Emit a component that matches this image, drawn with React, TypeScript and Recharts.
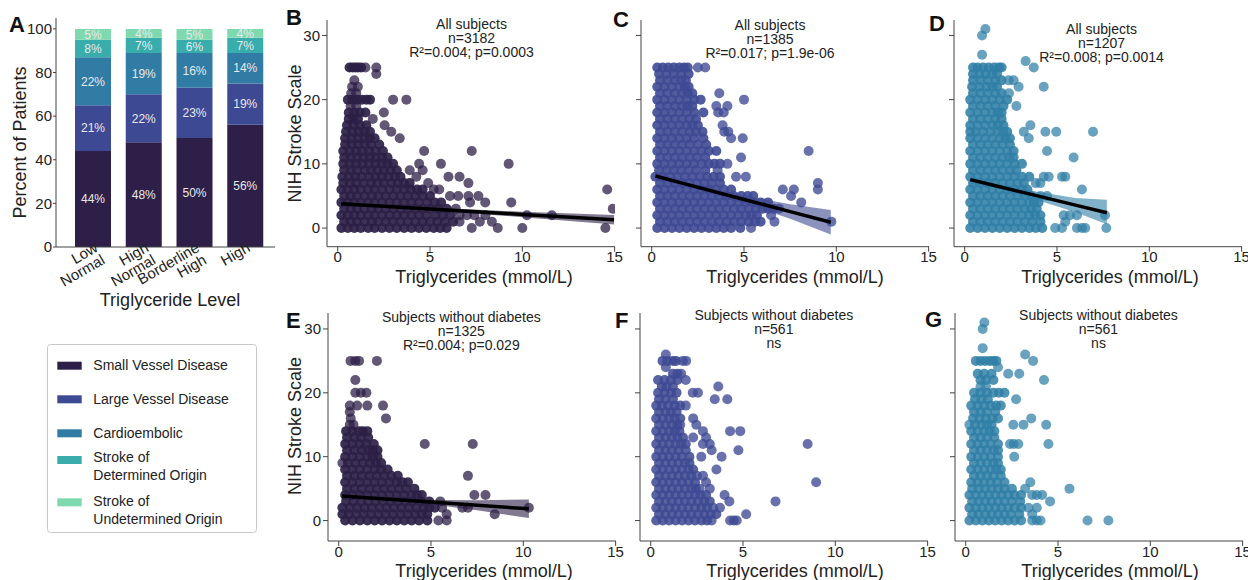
import React from "react";
import {
  BarChart,
  Bar,
  XAxis,
  YAxis,
  LabelList,
  ComposedChart,
  Scatter,
  Line,
  Area,
} from "recharts";

const FONT = '"Liberation Sans", Arial, Helvetica, sans-serif';
const INK = "#222";
const AXIS = "#444";

// ---- panel A: subtype share by triglyceride level ----
const levels = ["Low\nNormal", "High\nNormal", "Borderline\nHigh", "High"];
const smallVessel = [44, 48, 50, 56];
const largeVessel = [21, 22, 23, 19];
const cardioembolic = [22, 19, 16, 14];
const determinedOrigin = [8, 7, 6, 7];
const undeterminedOrigin = [5, 4, 5, 4];
const percentTicks = [0, 20, 40, 60, 80, 100];

const subtypes = [
  { key: "svd", name: ["Small Vessel Disease"], values: smallVessel },
  { key: "lvd", name: ["Large Vessel Disease"], values: largeVessel },
  { key: "ce", name: ["Cardioembolic"], values: cardioembolic },
  { key: "sdo", name: ["Stroke of", "Determined Origin"], values: determinedOrigin },
  { key: "suo", name: ["Stroke of", "Undetermined Origin"], values: undeterminedOrigin },
];

const subtypeColors: Record<string, string> = {
  svd: "#2d1f47",
  lvd: "#3e4993",
  ce: "#317ca4",
  sdo: "#38adab",
  suo: "#7fd9af",
};

const barData = levels.map((level, i) => {
  const row: any = { level };
  subtypes.forEach((s) => (row[s.key] = s.values[i]));
  return row;
});

// ---- scatter panels ----
// dense core: [NIHSS, triglyceride values at that score]; sparse points: [x, y]
type Row = [number, number[]];
type Pt = [number, number];
type Fit = [number, number, number, number]; // x, fit, lower, upper

const xTicks = [0, 5, 10, 15];
const yTicks = [0, 10, 20, 30];

const bRows: Row[] = [
  [0, [0.2, 0.55, 0.9, 1.25, 1.65, 2.0, 2.4, 2.8, 3.2, 3.6, 4.0, 4.4, 4.8, 5.2, 5.55, 5.9]],
  [1, [0.35, 0.7, 1.05, 1.45, 1.85, 2.2, 2.6, 3.0, 3.4, 3.8, 4.2, 4.6, 5.0, 5.4, 5.8, 6.25]],
  [2, [0.2, 0.55, 0.9, 1.25, 1.65, 2.0, 2.4, 2.8, 3.2, 3.6, 4.0, 4.4, 4.8, 5.3, 5.7, 6.1]],
  [3, [0.35, 0.7, 1.05, 1.45, 1.85, 2.2, 2.6, 3.0, 3.4, 3.8, 4.2, 4.6, 5.0, 5.45, 5.9]],
  [4, [0.2, 0.55, 0.9, 1.25, 1.65, 2.0, 2.4, 2.8, 3.2, 3.6, 4.0, 4.4, 4.85, 5.25, 5.6]],
  [5, [0.35, 0.7, 1.05, 1.45, 1.85, 2.2, 2.6, 3.0, 3.4, 3.8, 4.2, 4.6, 5.0]],
  [6, [0.2, 0.55, 0.9, 1.25, 1.65, 2.0, 2.4, 2.8, 3.2, 3.6, 3.95, 4.3, 4.6]],
  [7, [0.3, 0.65, 1.0, 1.4, 1.8, 2.15, 2.5, 2.9, 3.25, 3.6, 3.9]],
  [8, [0.25, 0.6, 0.95, 1.3, 1.7, 2.05, 2.4, 2.75, 3.1, 3.4]],
  [9, [0.35, 0.7, 1.05, 1.45, 1.8, 2.15, 2.5, 2.85, 3.2]],
  [10, [0.3, 0.65, 1.0, 1.35, 1.7, 2.05, 2.4, 2.7, 3.0]],
  [11, [0.35, 0.7, 1.05, 1.4, 1.75, 2.05, 2.4, 2.7]],
  [12, [0.3, 0.65, 1.0, 1.35, 1.7, 2.05, 2.45]],
  [13, [0.4, 0.75, 1.1, 1.45, 1.8, 2.25]],
  [14, [0.4, 0.75, 1.1, 1.45, 1.75, 2.0]],
  [15, [0.45, 0.8, 1.15, 1.45, 1.75]],
  [16, [0.5, 0.85, 1.2, 1.55]],
  [17, [0.6, 0.85, 1.1]],
  [18, [0.6, 0.9, 1.2, 1.5]],
  [20, [0.55, 0.8, 1.05, 1.3, 1.55, 1.75]],
  [25, [0.64, 0.8, 0.95, 1.1, 1.27]],
];
const bExtra: Pt[] = [
  [1.5, 25], [2.09, 25], [2.09, 24], [0.9, 23], [0.78, 22], [1.09, 22], [0.73, 21], [1.0, 21],
  [3.0, 20], [3.72, 20], [0.7, 19], [1.0, 19], [2.5, 18], [1.9, 17],
  [2.54, 16], [2.9, 15], [3.36, 14], [4.68, 12], [7.26, 12], [4.41, 10], [5.59, 10], [9.26, 10],
  [3.9, 9], [4.6, 9], [4.26, 8], [6.0, 8], [6.6, 8], [4.9, 7], [7.08, 7], [5.2, 6], [5.5, 6],
  [14.6, 6], [6.08, 5], [6.53, 5], [7.08, 5], [7.62, 5], [7.17, 4], [7.99, 4], [9.4, 4], [6.4, 3],
  [14.9, 3], [6.6, 2], [7.0, 2], [7.4, 2], [8.0, 2], [10.25, 2], [11.6, 2], [6.6, 1], [7.7, 1],
  [8.35, 1], [7.26, 0], [8.67, 0], [10.0, 0], [14.5, 0],
];
const bFit: Fit[] = [
  [0.18, 3.78, 3.45, 4.1], [2, 3.47, 3.32, 3.62], [5, 2.97, 2.75, 3.2], [10, 2.13, 1.7, 2.55], [14.97, 1.29, 0.55, 2.05],
];

const cRows: Row[] = [
  [0, [0.3, 0.7, 1.1, 1.5, 1.9, 2.3, 2.7, 3.1, 3.5, 3.9, 4.3, 4.8]],
  [1, [0.45, 0.85, 1.25, 1.65, 2.05, 2.45, 2.85, 3.25, 3.65, 4.05, 4.45, 4.85, 5.25, 5.6, 5.9]],
  [2, [0.3, 0.7, 1.1, 1.5, 1.9, 2.3, 2.7, 3.1, 3.5, 3.9, 4.3, 4.7, 5.1, 5.4, 5.7]],
  [3, [0.45, 0.85, 1.25, 1.65, 2.05, 2.45, 2.85, 3.25, 3.65, 4.05, 4.45, 4.85, 5.25, 5.65, 6.0, 6.3, 6.6]],
  [4, [0.3, 0.7, 1.1, 1.5, 1.9, 2.3, 2.7, 3.1, 3.5, 3.9, 4.3, 4.7, 5.1, 5.5, 5.9, 6.3]],
  [5, [0.45, 0.85, 1.25, 1.65, 2.05, 2.45, 2.85, 3.25, 3.65, 4.05, 4.45, 4.85, 5.2, 5.5]],
  [6, [0.3, 0.7, 1.1, 1.5, 1.9, 2.3, 2.7, 3.1, 3.5, 3.9, 4.3]],
  [7, [0.45, 0.85, 1.25, 1.65, 2.05, 2.45, 2.85, 3.25, 3.7]],
  [8, [0.2, 0.6, 1.0, 1.4, 1.8, 2.2, 2.6, 3.0, 3.35, 3.7]],
  [9, [0.4, 0.8, 1.2, 1.6, 2.0, 2.4, 2.9]],
  [10, [0.3, 0.7, 1.1, 1.5, 1.9, 2.3, 2.7, 3.1, 3.4, 3.7]],
  [11, [0.45, 0.85, 1.25, 1.65, 2.05, 2.45, 2.9]],
  [12, [0.3, 0.7, 1.1, 1.5, 1.9, 2.3, 2.7, 3.1, 3.5]],
  [13, [0.45, 0.85, 1.25, 1.65, 2.05, 2.5, 2.95]],
  [14, [0.3, 0.7, 1.1, 1.5, 1.9, 2.3, 2.8]],
  [15, [0.45, 0.85, 1.25, 1.65, 2.05, 2.4, 2.75]],
  [16, [0.3, 0.7, 1.1, 1.5, 1.9, 2.2, 2.5]],
  [17, [0.45, 0.85, 1.25, 1.65, 2.05, 2.4]],
  [18, [0.3, 0.7, 1.1, 1.5, 1.9, 2.3, 2.8]],
  [19, [0.45, 0.85, 1.25, 1.65, 1.95, 2.2]],
  [20, [0.3, 0.7, 1.1, 1.5, 1.9, 2.3, 2.65]],
  [21, [0.45, 0.85, 1.25, 1.65, 1.95, 2.2]],
  [22, [0.3, 0.7, 1.1, 1.5, 1.8, 2.0]],
  [23, [0.45, 0.85, 1.25, 1.6, 1.85]],
  [24, [0.4, 0.8, 1.2, 1.6, 2.0]],
  [25, [0.3, 0.6, 0.9, 1.2, 1.5, 1.75, 1.95]],
];
const cExtra: Pt[] = [
  [2.5, 25], [2.9, 25], [3.66, 21], [5.0, 20], [3.5, 19], [4.1, 19], [3.6, 18], [3.9, 18], [3.84, 16],
  [3.93, 15], [4.15, 15], [4.3, 14], [4.93, 14], [8.5, 12], [4.84, 11], [4.1, 10], [3.57, 9], [4.57, 8],
  [5.1, 8], [9.0, 7], [7.1, 6], [7.7, 6], [9.0, 6], [7.55, 5], [8.1, 4], [6.9, 3], [6.47, 2], [6.65, 1],
  [9.73, 1], [5.38, 0],
];
const cFit: Fit[] = [
  [0.2, 8.1, 7.5, 8.7], [1.7, 6.96, 6.6, 7.3], [5, 4.46, 3.85, 5.05], [7.5, 2.57, 1.45, 3.7], [9.7, 0.9, -1.0, 2.8],
];

const dRows: Row[] = [
  [0, [0.3, 0.7, 1.1, 1.5, 1.9, 2.3, 2.7, 3.1, 3.5, 3.85, 4.2]],
  [1, [0.45, 0.85, 1.25, 1.65, 2.05, 2.45, 2.85, 3.25, 3.65, 4.1]],
  [2, [0.3, 0.7, 1.1, 1.5, 1.9, 2.3, 2.7, 3.1, 3.5, 3.8, 4.1]],
  [3, [0.45, 0.85, 1.25, 1.65, 2.05, 2.45, 2.85, 3.25, 3.6, 3.9]],
  [4, [0.3, 0.7, 1.1, 1.5, 1.9, 2.3, 2.7, 3.1, 3.5, 3.75, 4.0]],
  [5, [0.45, 0.85, 1.25, 1.65, 2.05, 2.45, 2.85, 3.25, 3.6]],
  [6, [0.3, 0.7, 1.1, 1.5, 1.9, 2.3, 2.7, 3.1, 3.4]],
  [7, [0.45, 0.85, 1.25, 1.65, 2.05, 2.45, 2.85, 3.2]],
  [8, [0.3, 0.7, 1.1, 1.5, 1.9, 2.3, 2.7, 3.1, 3.5]],
  [9, [0.45, 0.85, 1.25, 1.65, 2.05, 2.45, 2.8]],
  [10, [0.3, 0.7, 1.1, 1.5, 1.9, 2.3, 2.7, 3.1]],
  [11, [0.45, 0.85, 1.25, 1.65, 2.05, 2.4, 2.65]],
  [12, [0.3, 0.7, 1.1, 1.5, 1.9, 2.3, 2.65]],
  [13, [0.45, 0.85, 1.25, 1.65, 2.05, 2.45]],
  [14, [0.3, 0.7, 1.1, 1.5, 1.9, 2.2, 2.45]],
  [15, [0.3, 0.6, 1.0, 1.4, 1.8, 2.1, 2.3]],
  [16, [0.3, 0.7, 1.1, 1.5, 1.8, 2.1]],
  [17, [0.45, 0.85, 1.25, 1.65, 2.0]],
  [18, [0.3, 0.7, 1.1, 1.5, 1.8, 2.0]],
  [19, [0.45, 0.85, 1.25, 1.65, 2.1]],
  [20, [0.3, 0.7, 1.1, 1.5, 1.9, 2.3]],
  [21, [0.45, 0.85, 1.25, 1.65, 2.0]],
  [22, [0.4, 0.8, 1.2, 1.5, 1.75]],
  [23, [0.45, 0.85, 1.25, 1.65, 2.0]],
  [24, [0.45, 0.8, 1.15, 1.5, 1.75]],
  [25, [0.45, 0.7, 1.0, 1.3, 1.6, 1.85, 2.0]],
];
const dExtra: Pt[] = [
  [1.12, 31], [0.94, 30], [0.94, 27], [3.3, 26], [3.74, 25], [2.38, 23], [2.65, 23], [2.92, 22], [4.28, 22],
  [2.4, 21], [2.8, 19], [3.56, 16], [3.2, 15], [4.37, 15], [4.96, 15], [6.95, 15], [3.47, 14], [4.46, 12],
  [5.9, 11], [4.28, 8], [4.55, 8], [5.27, 8], [5.45, 8], [3.85, 7], [4.1, 7], [6.35, 6], [4.1, 5], [4.46, 5],
  [5.36, 2], [5.7, 2], [6.08, 2], [7.6, 2], [5.45, 1], [4.9, 0], [5.27, 0], [6.08, 0], [6.35, 0], [6.53, 0], [7.67, 0],
];
const dFit: Fit[] = [
  [0.3, 7.55, 6.9, 8.2], [1.5, 6.71, 6.35, 7.05], [4, 4.97, 4.3, 5.6], [6, 3.58, 2.45, 4.7], [7.7, 2.39, 0.6, 4.4],
];

const eRows: Row[] = [
  [0, [0.35, 0.75, 1.15, 1.55, 1.95, 2.35, 2.75, 3.15, 3.55, 3.95, 4.35, 4.8]],
  [1, [0.2, 0.55, 0.95, 1.35, 1.75, 2.15, 2.55, 2.95, 3.35, 3.75, 4.15, 4.5, 4.8]],
  [2, [0.2, 0.6, 1.0, 1.4, 1.8, 2.2, 2.6, 3.0, 3.4, 3.8, 4.2, 4.6, 4.9, 5.2]],
  [3, [0.4, 0.8, 1.2, 1.6, 2.0, 2.4, 2.8, 3.2, 3.6, 4.0, 4.45, 4.9]],
  [4, [0.35, 0.75, 1.15, 1.55, 1.95, 2.35, 2.75, 3.15, 3.55, 3.95, 4.25, 4.5]],
  [5, [0.45, 0.85, 1.25, 1.65, 2.05, 2.45, 2.85, 3.25, 3.65, 4.1]],
  [6, [0.35, 0.75, 1.15, 1.55, 1.95, 2.35, 2.75, 3.15, 3.45, 3.75]],
  [7, [0.45, 0.85, 1.25, 1.65, 2.05, 2.45, 2.85, 3.2]],
  [8, [0.35, 0.75, 1.15, 1.55, 1.95, 2.3, 2.65]],
  [9, [0.5, 0.9, 1.3, 1.7, 2.0, 2.3]],
  [10, [0.35, 0.75, 1.15, 1.55, 1.85, 2.1]],
  [11, [0.45, 0.85, 1.25, 1.6, 1.85, 2.1]],
  [12, [0.35, 0.75, 1.15, 1.5, 1.9]],
  [13, [0.45, 0.85, 1.2, 1.6]],
  [14, [0.4, 0.75, 1.1, 1.3, 1.55]],
];
const eExtra: Pt[] = [
  [0.64, 25], [0.9, 25], [1.1, 25], [2.07, 25], [0.9, 22], [0.9, 20], [1.2, 20], [1.5, 20],
  [0.6, 18], [1.0, 18], [1.55, 18], [2.4, 18], [0.6, 17], [0.65, 16], [2.56, 16], [0.6, 15], [0.8, 15],
  [4.66, 12], [7.26, 12], [0.2, 9], [7.0, 7], [7.35, 4], [7.95, 4], [5.5, 3], [5.6, 2], [6.7, 2], [7.0, 2],
  [10.3, 2], [5.85, 1], [8.45, 1], [5.4, 0], [5.85, 0],
];
const eFit: Fit[] = [
  [0.18, 3.84, 3.45, 4.2], [1.7, 3.54, 3.38, 3.7], [5, 2.89, 2.55, 3.23], [7.5, 2.39, 1.6, 3.2], [10.3, 1.84, 0.4, 3.3],
];

const fRows: Row[] = [
  [0, [0.3, 0.65, 1.0, 1.35, 1.7, 2.05, 2.4, 2.75, 3.05]],
  [1, [0.45, 0.8, 1.15, 1.5, 1.85, 2.2, 2.55, 2.9, 3.25, 3.55]],
  [2, [0.3, 0.65, 1.0, 1.35, 1.7, 2.05, 2.4, 2.75, 3.05]],
  [3, [0.45, 0.8, 1.15, 1.5, 1.85, 2.2, 2.55, 2.9, 3.2]],
  [4, [0.3, 0.65, 1.0, 1.35, 1.7, 2.05, 2.4, 2.7, 3.0]],
  [5, [0.45, 0.8, 1.15, 1.5, 1.85, 2.2, 2.45]],
  [6, [0.3, 0.65, 1.0, 1.35, 1.7, 2.05, 2.4]],
  [7, [0.45, 0.8, 1.15, 1.5, 1.85, 2.2]],
  [8, [0.3, 0.65, 1.0, 1.35, 1.7, 2.05, 2.3]],
  [9, [0.45, 0.8, 1.15, 1.5, 1.85, 2.1]],
  [10, [0.3, 0.65, 1.0, 1.35, 1.7, 2.1]],
  [11, [0.45, 0.8, 1.15, 1.5, 1.9]],
  [12, [0.3, 0.65, 1.0, 1.35, 1.65, 1.9]],
  [13, [0.45, 0.8, 1.15, 1.45, 1.75]],
  [14, [0.3, 0.65, 1.0, 1.3, 1.55]],
  [15, [0.45, 0.8, 1.15, 1.45]],
  [16, [0.3, 0.65, 1.0, 1.3, 1.6]],
  [17, [0.45, 0.8, 1.1, 1.4]],
  [18, [0.3, 0.6, 0.95, 1.3, 1.6]],
  [19, [0.45, 0.8, 1.2]],
  [20, [0.4, 0.75, 1.1, 1.4]],
  [21, [0.6, 0.85, 1.2]],
  [22, [0.4, 0.75, 1.1, 1.45]],
  [23, [1.2, 1.45]],
  [25, [0.64, 0.9, 1.2, 1.37]],
];
const fExtra: Pt[] = [
  [3.3, 0], [4.3, 0], [4.5, 0], [4.66, 0], [5.17, 1], [3.38, 2], [3.75, 2], [4.26, 3], [6.76, 3], [4.0, 4],
  [3.2, 5], [2.65, 5], [3.0, 6], [8.96, 6], [2.5, 7], [2.83, 7], [3.56, 8], [2.74, 10], [3.84, 10], [3.3, 11],
  [4.75, 11], [2.83, 12], [3.2, 12], [8.5, 12], [2.3, 13], [3.0, 13], [2.83, 14], [4.3, 14], [4.85, 14],
  [1.6, 15], [2.47, 15], [2.3, 16], [1.9, 18], [3.47, 19], [4.15, 19], [2.28, 20], [2.56, 20], [3.66, 21],
  [1.9, 22], [1.65, 23], [0.82, 24], [1.74, 25], [1.92, 25], [0.82, 26],
];

const gRows: Row[] = [
  [0, [0.2, 0.55, 0.9, 1.25, 1.6, 1.95, 2.3, 2.65, 3.0]],
  [1, [0.35, 0.7, 1.05, 1.4, 1.75, 2.1, 2.45, 2.9]],
  [2, [0.2, 0.55, 0.9, 1.25, 1.6, 1.95, 2.3, 2.65, 3.0]],
  [3, [0.35, 0.7, 1.05, 1.4, 1.75, 2.1, 2.5, 2.95]],
  [4, [0.2, 0.55, 0.9, 1.25, 1.6, 1.95, 2.3, 2.65, 3.0]],
  [5, [0.35, 0.7, 1.05, 1.4, 1.75, 2.1, 2.5]],
  [6, [0.3, 0.65, 1.0, 1.35, 1.7, 2.1]],
  [7, [0.45, 0.8, 1.15, 1.5, 1.9]],
  [8, [0.3, 0.65, 1.0, 1.35, 1.65, 1.9]],
  [9, [0.45, 0.8, 1.15, 1.5, 1.75]],
  [10, [0.3, 0.65, 1.0, 1.35, 1.75]],
  [11, [0.45, 0.8, 1.15, 1.5, 1.75]],
  [12, [0.3, 0.65, 1.0, 1.35, 1.75]],
  [13, [0.45, 0.8, 1.15, 1.55]],
  [14, [0.3, 0.65, 1.0, 1.3, 1.55]],
  [15, [0.5, 0.85, 1.15, 1.4]],
  [16, [0.4, 0.75, 1.1, 1.45, 1.75]],
  [17, [0.45, 0.8, 1.15, 1.6]],
  [18, [0.3, 0.65, 1.0, 1.35, 1.65, 1.9]],
  [19, [0.5, 0.85, 1.2]],
  [20, [0.45, 0.8, 1.15, 1.5, 1.8, 2.1]],
  [22, [0.8, 1.1, 1.5]],
  [23, [0.65, 1.0, 1.4]],
  [25, [0.55, 0.8, 1.05, 1.3, 1.5, 1.66]],
];
const gExtra: Pt[] = [
  [3.6, 0], [3.85, 0], [4.05, 0], [6.6, 0], [7.73, 0], [3.6, 1], [3.4, 2], [3.85, 2], [4.57, 3], [3.6, 4],
  [3.85, 4], [4.14, 4], [3.22, 5], [5.62, 5], [3.5, 6], [2.63, 10], [2.4, 12], [2.6, 12], [2.85, 12],
  [4.48, 12], [0.2, 15], [2.58, 15], [3.13, 15], [4.36, 15], [3.55, 16], [2.73, 19], [0.8, 21], [1.1, 21],
  [4.24, 22], [2.3, 23], [2.9, 23], [1.75, 24], [3.65, 25], [3.22, 26], [0.92, 27], [0.92, 30], [1.01, 31],
];

const allSubjects = "All subjects";
const noDiabetes = "Subjects without diabetes";
const bNote = [allSubjects, "n=3182", "R²=0.004; p=0.0003"];
const cNote = [allSubjects, "n=1385", "R²=0.017; p=1.9e-06"];
const dNote = [allSubjects, "n=1207", "R²=0.008; p=0.0014"];
const eNote = [noDiabetes, "n=1325", "R²=0.004; p=0.029"];
const fNote = [noDiabetes, "n=561", "ns"];
const gNote = [noDiabetes, "n=561", "ns"];

const rowsToPoints = (rows: Row[]) => rows.flatMap(([y, xs]) => xs.map((x) => ({ x, y })));
const pairsToPoints = (pts: Pt[]) => pts.map(([x, y]) => ({ x, y }));

const PURPLE = "#2d1f47";
const BLUE = "#3e4993";
const TEAL = "#2f7ea6";

const X_DOMAIN: [number, number] = [-0.58, 15.02];
const TOP_Y: [number, number] = [-2.9, 32.4];
const BOTTOM_Y: [number, number] = [-3.2, 32.5];

const LevelTick = (props: any) => {
  const { x, y, payload } = props;
  const lines = String(payload.value).split("\n");
  return (
    <g transform={`translate(${x},${y}) rotate(-30)`}>
      <text textAnchor="end" fontSize={15} fill={INK} fontFamily={FONT}>
        {lines.map((l, i) => (
          <tspan key={i} x={3} y={6 + i * 14}>
            {l}
          </tspan>
        ))}
      </text>
    </g>
  );
};

interface PanelProps {
  left: number;
  top: number;
  bottom: number;
  yDomain: [number, number];
  rows: Row[];
  extra: Pt[];
  fit?: Fit[];
  color: string;
  coreOpacity: number;
  opacity: number;
  yLabels: boolean;
}

const W = 336;
const H = 280;

const ScatterPanel: React.FC<PanelProps> = ({
  left, top, bottom, yDomain, rows, extra, fit, color, coreOpacity, opacity, yLabels,
}) => {
  const fitData = (fit ?? []).map(([x, y, lo, hi]) => ({ x, y, band: [lo, hi] }));
  const margin = { top: 20, right: 8, bottom, left: 0 };
  return (
    <>
      <div style={{ position: "absolute", left, top }}>
        <ComposedChart width={W} height={H} margin={margin}>
          <XAxis
            type="number"
            dataKey="x"
            domain={X_DOMAIN}
            ticks={xTicks}
            interval={0}
            allowDataOverflow
            height={30}
            tickSize={5}
            tickMargin={0}
            stroke={AXIS}
            tick={{ fill: INK, fontSize: 15, fontFamily: FONT }}
          />
          <YAxis
            type="number"
            dataKey="y"
            domain={yDomain}
            ticks={yTicks}
            interval={0}
            allowDataOverflow
            width={40}
            tickSize={5}
            tickMargin={2}
            stroke={AXIS}
            tickFormatter={yLabels ? undefined : () => ""}
            tick={{ fill: INK, fontSize: 15, fontFamily: FONT }}
          />
          <Scatter
            data={rowsToPoints(rows)}
            isAnimationActive={false}
            shape={(p: any) => <circle cx={p.cx} cy={p.cy} r={5} fill={color} fillOpacity={coreOpacity} />}
          />
          <Scatter
            data={pairsToPoints(extra)}
            isAnimationActive={false}
            shape={(p: any) => <circle cx={p.cx} cy={p.cy} r={5} fill={color} fillOpacity={opacity} />}
          />
        </ComposedChart>
      </div>
      {fit && (
        // linear fit + confidence band, drawn on the same scales above the points
        <div style={{ position: "absolute", left, top }}>
          <ComposedChart width={W} height={H} data={fitData} margin={margin}>
            <XAxis type="number" dataKey="x" domain={X_DOMAIN} allowDataOverflow height={30} axisLine={false} tickLine={false} tick={false} />
            <YAxis type="number" dataKey="y" domain={yDomain} allowDataOverflow width={40} axisLine={false} tickLine={false} tick={false} />
            <Area type="linear" dataKey="band" stroke="none" fill={color} fillOpacity={0.6} isAnimationActive={false} />
            <Line type="linear" dataKey="y" stroke="#000" strokeWidth={3.5} dot={false} isAnimationActive={false} />
          </ComposedChart>
        </div>
      )}
    </>
  );
};

const Note = ({ cx, y, lines }: { cx: number; y: number; lines: string[] }) => (
  <text textAnchor="middle" fontSize={14} fill={INK} fontFamily={FONT}>
    {lines.map((l, i) => (
      <tspan key={i} x={cx} y={y + i * 14.2}>
        {l}
      </tspan>
    ))}
  </text>
);

const letter = { fontSize: 22, fontWeight: 700, fill: "#111", fontFamily: FONT };
const title = { fontSize: 18, fill: INK, fontFamily: FONT };

export default function App() {
  return (
    <div
      style={{
        position: "absolute",
        left: 0,
        top: 0,
        width: 1248,
        height: 580,
        background: "#fff",
        overflow: "hidden",
        fontFamily: FONT,
      }}
    >
      <div style={{ position: "absolute", left: 0, top: 0 }}>
        <BarChart width={290} height={320} data={barData} margin={{ top: 18, right: 15, bottom: 0, left: 0 }}>
          <XAxis
            dataKey="level"
            padding={{ left: 12, right: 4 }}
            interval={0}
            height={73}
            tickLine={false}
            tickSize={0}
            tickMargin={0}
            stroke={AXIS}
            tick={<LevelTick />}
          />
          <YAxis
            type="number"
            domain={[0, 105]}
            ticks={percentTicks}
            interval={0}
            width={56}
            tickSize={3}
            tickMargin={1}
            stroke={AXIS}
            tick={{ fill: INK, fontSize: 15, fontFamily: FONT }}
          />
          {subtypes.map((s) => (
            <Bar key={s.key} dataKey={s.key} stackId="a" barSize={36} fill={subtypeColors[s.key]} isAnimationActive={false}>
              <LabelList
                dataKey={s.key}
                position="center"
                formatter={(v: any) => `${v}%`}
                fill="#e8e8e8"
                fontSize={12}
                fontFamily={FONT}
              />
            </Bar>
          ))}
        </BarChart>
      </div>

      <ScatterPanel left={287} top={0} bottom={3.3} yDomain={TOP_Y} rows={bRows} extra={bExtra} fit={bFit} color={PURPLE} coreOpacity={0.92} opacity={0.75} yLabels />
      <ScatterPanel left={600.5} top={0} bottom={3.3} yDomain={TOP_Y} rows={cRows} extra={cExtra} fit={cFit} color={BLUE} coreOpacity={0.9} opacity={0.78} yLabels={false} />
      <ScatterPanel left={914} top={0} bottom={3.3} yDomain={TOP_Y} rows={dRows} extra={dExtra} fit={dFit} color={TEAL} coreOpacity={0.88} opacity={0.72} yLabels={false} />
      <ScatterPanel left={288} top={293} bottom={2} yDomain={BOTTOM_Y} rows={eRows} extra={eExtra} fit={eFit} color={PURPLE} coreOpacity={0.92} opacity={0.75} yLabels />
      <ScatterPanel left={600} top={293} bottom={2} yDomain={BOTTOM_Y} rows={fRows} extra={fExtra} color={BLUE} coreOpacity={0.86} opacity={0.78} yLabels={false} />
      <ScatterPanel left={915} top={293} bottom={2} yDomain={BOTTOM_Y} rows={gRows} extra={gExtra} color={TEAL} coreOpacity={0.84} opacity={0.72} yLabels={false} />

      <svg width={1248} height={580} style={{ position: "absolute", left: 0, top: 0, pointerEvents: "none" }}>
        <text x={9} y={32} {...letter}>A</text>
        <text x={286} y={25} {...letter}>B</text>
        <text x={613} y={27} {...letter}>C</text>
        <text x={929} y={31} {...letter}>D</text>
        <text x={286} y={328} {...letter}>E</text>
        <text x={615} y={328} {...letter}>F</text>
        <text x={925} y={327} {...letter}>G</text>

        <text transform="translate(26,142.5) rotate(-90)" textAnchor="middle" {...title}>Percent of Patients</text>
        <text x={170} y={306} textAnchor="middle" {...title}>Triglyceride Level</text>

        <text transform="translate(301,133.5) rotate(-90)" textAnchor="middle" {...title}>NIH Stroke Scale</text>
        <text transform="translate(301,426) rotate(-90)" textAnchor="middle" {...title}>NIH Stroke Scale</text>
        {[484, 795, 1110].map((cx) => (
          <React.Fragment key={cx}>
            <text x={cx} y={282.5} textAnchor="middle" {...title}>Triglycerides (mmol/L)</text>
            <text x={cx} y={577} textAnchor="middle" {...title}>Triglycerides (mmol/L)</text>
          </React.Fragment>
        ))}

        <Note cx={471.5} y={29} lines={bNote} />
        <Note cx={770} y={30} lines={cNote} />
        <Note cx={1101.5} y={34} lines={dNote} />
        <Note cx={461.3} y={322} lines={eNote} />
        <Note cx={773.8} y={319.5} lines={fNote} />
        <Note cx={1098.5} y={319.5} lines={gNote} />

        {/* legend for panel A */}
        <rect x={47.5} y={344.5} width={209} height={188} rx={3} fill="none" stroke="#c8c8c8" />
        {subtypes.map((s, i) => {
          const cy = [365.7, 399.3, 433.3, 460, 502.3][i];
          const base = [370, 404.3, 437.7, 461.7, 505.7][i];
          return (
            <g key={s.key}>
              <rect x={57.3} y={cy - 4} width={24.4} height={8} fill={subtypeColors[s.key]} />
              <text fontSize={14} fill={INK} fontFamily={FONT}>
                {s.name.map((l, j) => (
                  <tspan key={j} x={93.3} y={base + j * 18.3}>
                    {l}
                  </tspan>
                ))}
              </text>
            </g>
          );
        })}
      </svg>
    </div>
  );
}
